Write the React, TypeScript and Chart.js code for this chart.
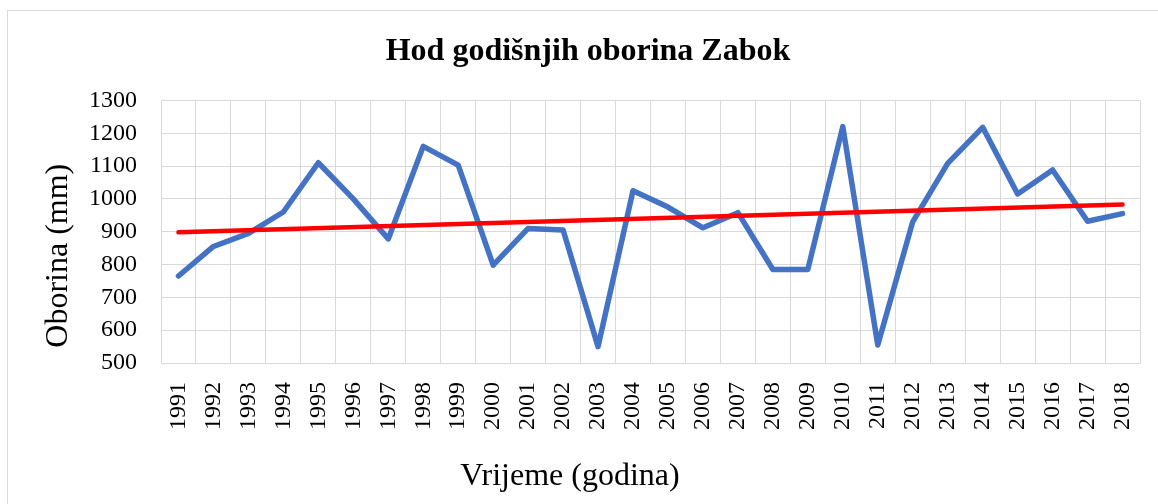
import React, { useEffect, useRef } from "react";
import { Chart, registerables } from "chart.js";

Chart.register(...registerables);

const years = [
  "1991", "1992", "1993", "1994", "1995", "1996", "1997", "1998", "1999", "2000",
  "2001", "2002", "2003", "2004", "2005", "2006", "2007", "2008", "2009", "2010",
  "2011", "2012", "2013", "2014", "2015", "2016", "2017", "2018",
];

const oborina = [
  765, 855, 895, 960, 1110, 1000, 878, 1160, 1103, 798,
  910, 905, 550, 1025, 975, 912, 958, 785, 785, 1220,
  555, 930, 1108, 1218, 1015, 1088, 932, 955,
];

const trendStart = 898;
const trendEnd = 983;
const trend = years.map((_, i) =>
  i === 0 ? trendStart : i === years.length - 1 ? trendEnd : null
);

const yTicks = [500, 600, 700, 800, 900, 1000, 1100, 1200, 1300];

const TITLE = "Hod godišnjih oborina Zabok";
const X_TITLE = "Vrijeme (godina)";
const Y_TITLE = "Oborina (mm)";

const FONT = "'Liberation Serif', 'Times New Roman', serif";

const axisTitlePlugin = {
  id: "axisTitles",
  afterDraw(chart: any) {
    const { ctx, chartArea } = chart;
    ctx.save();
    ctx.fillStyle = "#000";
    ctx.font = `32px ${FONT}`;
    ctx.textAlign = "center";
    ctx.textBaseline = "alphabetic";
    ctx.fillText(X_TITLE, chartArea.left + 409, chartArea.bottom + 122);
    ctx.translate(chartArea.left - 94, (chartArea.top + chartArea.bottom) / 2 + 24);
    ctx.rotate(-Math.PI / 2);
    ctx.fillText(Y_TITLE, 0, 0);
    ctx.restore();
  },
};

export default function App() {
  const ref = useRef<HTMLCanvasElement>(null);

  useEffect(() => {
    if (!ref.current) return;
    const chart = new Chart(ref.current, {
      type: "line",
      data: {
        labels: years,
        datasets: [
          {
            label: "Trend",
            data: trend,
            borderColor: "#FF0000",
            backgroundColor: "#FF0000",
            borderWidth: 4.5,
            pointRadius: 0,
            spanGaps: true,
            borderCapStyle: "round",
            order: 0,
          },
          {
            label: "Oborina",
            data: oborina,
            borderColor: "#4472C4",
            backgroundColor: "#4472C4",
            borderWidth: 5.5,
            pointRadius: 0,
            borderCapStyle: "round",
            borderJoinStyle: "round",
            tension: 0,
            order: 1,
          },
        ],
      },
      options: {
        animation: false,
        responsive: false,
        maintainAspectRatio: false,
        layout: { padding: { left: 28, right: 18, top: 0, bottom: 0 } },
        plugins: {
          legend: { display: false },
          tooltip: { enabled: false },
          title: {
            display: true,
            text: TITLE,
            color: "#000",
            font: { family: FONT, size: 32, weight: "bold", lineHeight: 1.2 },
            padding: { top: 22, bottom: 29 },
          },
        },
        scales: {
          x: {
            offset: true,
            grid: { offset: true, color: "#d9d9d9", lineWidth: 1, drawTicks: false },
            border: { color: "#d9d9d9", width: 1 },
            ticks: {
              autoSkip: false,
              minRotation: 90,
              maxRotation: 90,
              padding: 19,
              color: "#000",
              font: { family: FONT, size: 24 },
            },
            afterFit(scale: any) {
              scale.height = 148;
              scale.paddingLeft = 0;
              scale.paddingRight = 0;
            },
          },
          y: {
            min: 500,
            max: 1300,
            afterBuildTicks(scale: any) {
              scale.ticks = yTicks.map((v) => ({ value: v }));
            },
            grid: { color: "#d9d9d9", lineWidth: 1, drawTicks: false },
            border: { color: "#d9d9d9", width: 1 },
            ticks: {
              padding: 24,
              color: "#000",
              font: { family: FONT, size: 24 },
              callback: (v: any) => String(v),
            },
            afterFit(scale: any) {
              scale.width = 125;
            },
          },
        },
      },
      plugins: [axisTitlePlugin],
    });
    return () => chart.destroy();
  }, []);

  return (
    <div style={{ position: "fixed", inset: 0, overflow: "hidden", background: "#fff" }}>
      <div
        style={{
          position: "absolute",
          left: 7,
          top: 10,
          width: 1160,
          height: 520,
          border: "1px solid #d9d9d9",
          background: "#fff",
        }}
      >
        <canvas ref={ref} width={1150} height={500} style={{ display: "block" }} />
      </div>
    </div>
  );
}
